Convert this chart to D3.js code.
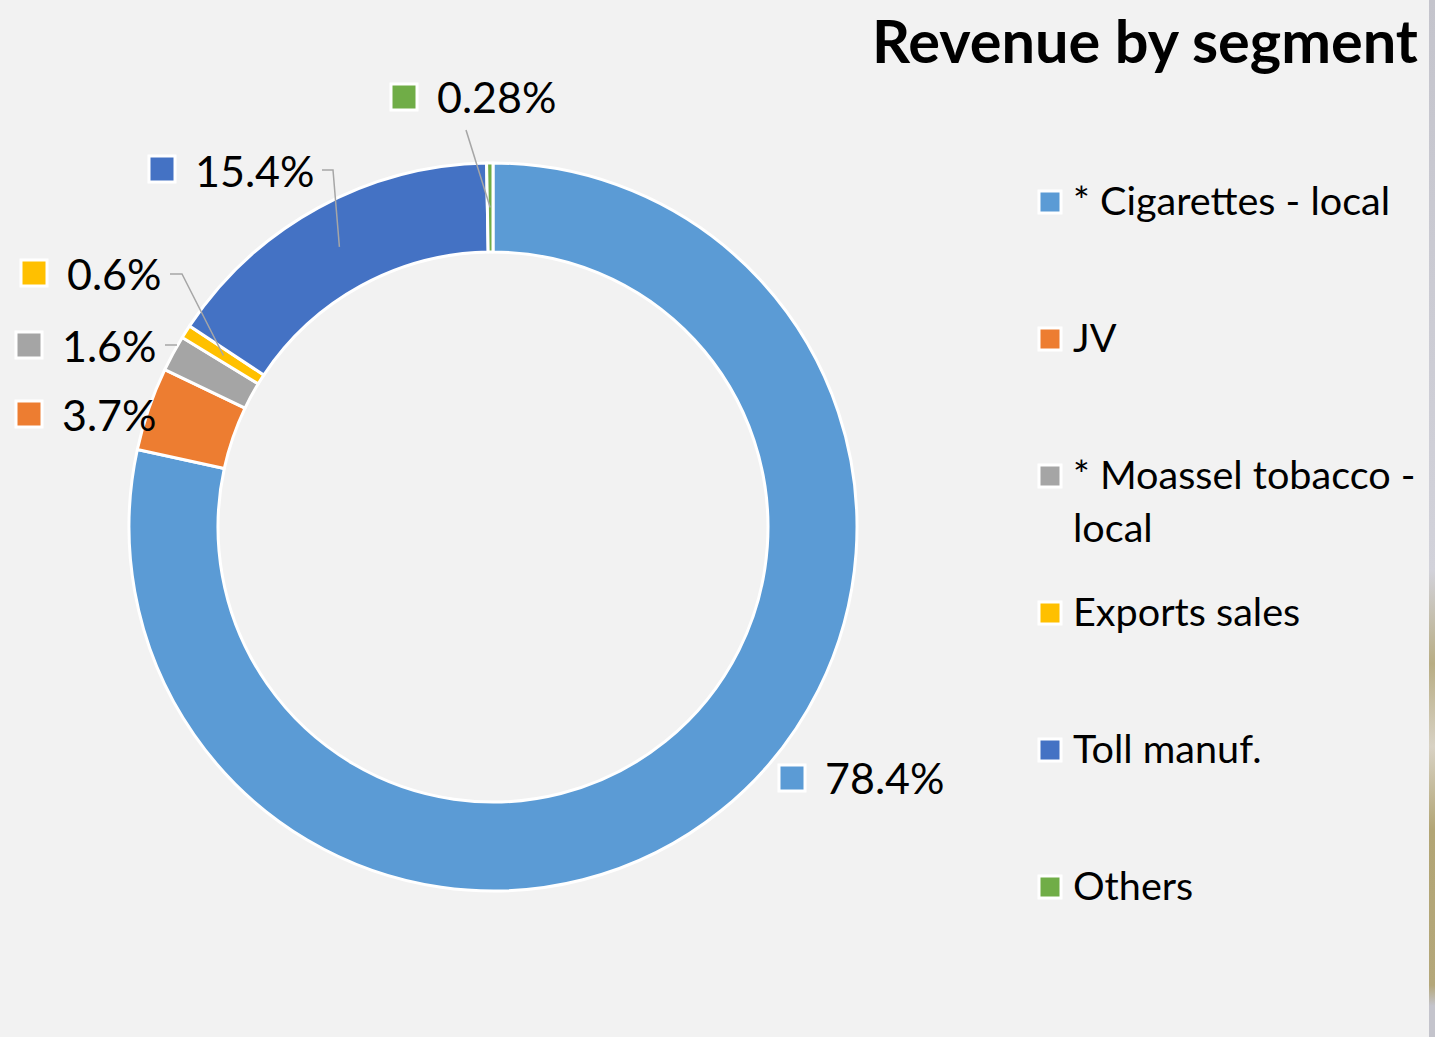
<!DOCTYPE html>
<html>
<head>
<meta charset="utf-8">
<script src="https://cdn.jsdelivr.net/npm/d3@7"></script>
<style>
  html, body { margin: 0; padding: 0; background: #F2F2F2; }
  svg { display: block; }
  text { font-family: Lato, "Open Sans", sans-serif; fill: #000; }
</style>
</head>
<body>
<svg id="chart" width="1435" height="1037"></svg>
<script>
// ---- data ----
const categories = ["* Cigarettes - local", "JV", "* Moassel tobacco - local", "Exports sales", "Toll manuf.", "Others"];
const legendLines = [["* Cigarettes - local"], ["JV"], ["* Moassel tobacco -", "local"], ["Exports sales"], ["Toll manuf."], ["Others"]];
const values = [78.4, 3.7, 1.6, 0.6, 15.4, 0.28];
const valueLabels = ["78.4%", "3.7%", "1.6%", "0.6%", "15.4%", "0.28%"];
const colors = ["#5B9BD5", "#ED7D31", "#A5A5A5", "#FFC000", "#4472C4", "#70AD47"];
const title = "Revenue by segment";

// ---- layout ----
const W = 1435, H = 1037;
const cx = 493, cy = 527, rOuter = 364, rInner = 275;
const labelPos = [
  { sx: 792, sy: 778, tx: 825, ty: 794, leader: null },
  { sx: 29,  sy: 414, tx: 62,  ty: 431, leader: null },
  { sx: 29,  sy: 345, tx: 62,  ty: 362, leader: { x0: 165, y0: 345, x1: 177, stub: true } },
  { sx: 34,  sy: 273, tx: 67,  ty: 290, leader: { x0: 170, y0: 274, x1: 182 } },
  { sx: 162, sy: 169, tx: 195, ty: 187, leader: { x0: 322, y0: 170, x1: 333 } },
  { sx: 404, sy: 97,  tx: 437, ty: 113, leader: { x0: 466, y0: 130, x1: 466 } }
];

const svg = d3.select("#chart");

svg.append("rect").attr("width", W).attr("height", H).attr("fill", "#F2F2F2");
const defs = svg.append("defs");
const grad = defs.append("linearGradient").attr("id", "edge").attr("x1", 0).attr("y1", 0).attr("x2", 0).attr("y2", 1);
[[0, "#c4c4cc"], [0.55, "#d2d2da"], [0.64, "#b8ad84"], [0.72, "#d8d2c4"], [0.8, "#b2a575"], [0.95, "#b4a77a"], [0.97, "#c4c4cc"], [1, "#c4c4cc"]]
  .forEach(([o, c]) => grad.append("stop").attr("offset", o).attr("stop-color", c));
svg.append("rect").attr("x", 1429).attr("y", 0).attr("width", 6).attr("height", H).attr("fill", "url(#edge)");

// donut
const pie = d3.pie().sort(null).value(d => d).startAngle(0).endAngle(2 * Math.PI);
const arcs = pie(values);
const arc = d3.arc().innerRadius(rInner).outerRadius(rOuter);
const midArc = d3.arc().innerRadius((rInner + rOuter) / 2).outerRadius((rInner + rOuter) / 2);

const g = svg.append("g").attr("transform", `translate(${cx},${cy})`);
g.selectAll("path.slice").data(arcs).join("path")
  .attr("class", "slice")
  .attr("d", arc)
  .attr("fill", (d, i) => colors[i])
  .attr("stroke", "#fff")
  .attr("stroke-width", 3)
  .attr("stroke-linejoin", "round");

// leader lines
arcs.forEach((a, i) => {
  const L = labelPos[i].leader;
  if (!L) return;
  const [mx, my] = midArc.centroid(a);
  let pts;
  if (L.stub) pts = [[L.x0, L.y0], [L.x1, L.y0]];
  else if (L.x0 === L.x1) pts = [[L.x0, L.y0], [cx + mx, cy + my]];
  else pts = [[L.x0, L.y0], [L.x1, L.y0], [cx + mx, cy + my]];
  svg.append("path")
    .attr("d", d3.line()(pts))
    .attr("fill", "none")
    .attr("stroke", "#A6A6A6")
    .attr("stroke-width", 1.5);
});

// data labels
const labelSize = 43;
arcs.forEach((a, i) => {
  const p = labelPos[i];
  svg.append("rect")
    .attr("x", p.sx - 13).attr("y", p.sy - 13).attr("width", 26).attr("height", 26)
    .attr("fill", colors[i]).attr("stroke", "#fff").attr("stroke-width", 3);
  svg.append("text")
    .attr("x", p.tx).attr("y", p.ty)
    .attr("font-size", labelSize)
    .text(valueLabels[i]);
});

// legend
const legendTop = 202, legendStep = 137, legendSize = 39.6;
const legendScale = d3.scalePoint().domain(categories).range([legendTop, legendTop + legendStep * (categories.length - 1)]);
const lg = svg.append("g");
categories.forEach((c, i) => {
  const y = legendScale(c);
  lg.append("rect")
    .attr("x", 1039).attr("y", y - 11).attr("width", 22).attr("height", 22)
    .attr("fill", colors[i]).attr("stroke", "#fff").attr("stroke-width", 3);
  legendLines[i].forEach((ln, k) => {
    lg.append("text")
      .attr("x", 1073).attr("y", y + 13 + k * 53)
      .attr("font-size", legendSize)
      .text(ln);
  });
});

// title
const t = svg.append("text")
  .attr("x", 1418).attr("y", 63)
  .attr("text-anchor", "end")
  .attr("font-weight", 700)
  .attr("font-size", 56)
  .text(title);
const tw = t.node().getComputedTextLength();
t.attr("font-size", 56 * 546 / tw);
</script>
</body>
</html>
